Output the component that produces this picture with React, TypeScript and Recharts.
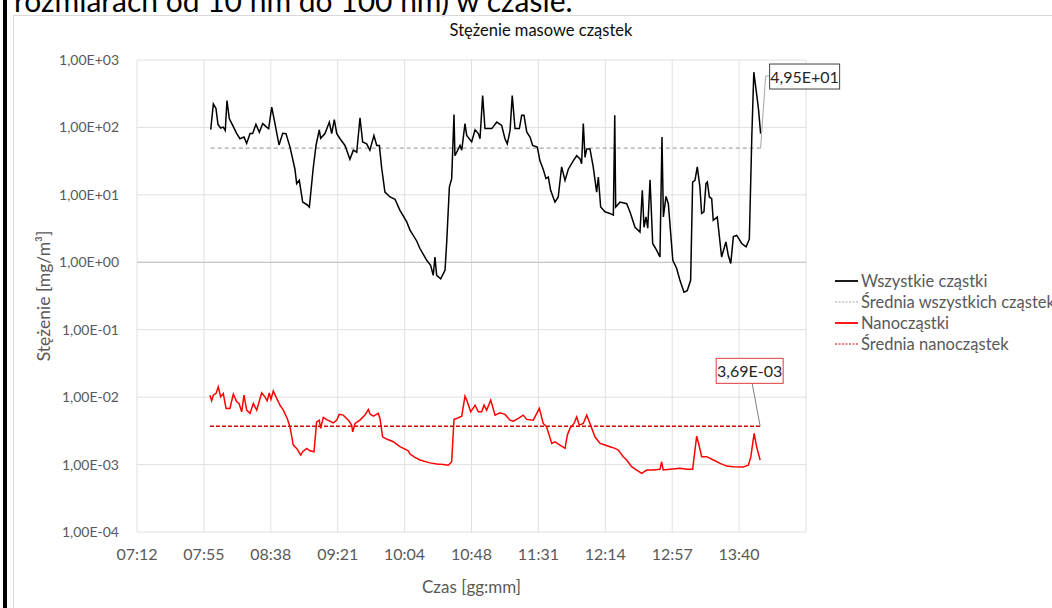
import React from "react";
import { LineChart, Line, XAxis, YAxis, CartesianGrid, ReferenceLine, ReferenceDot } from "recharts";

// czas w minutach od północy
const allTimes = [
  479.6, 481.3, 483.0, 484.3, 486.0, 487.7, 489.0, 490.1, 491.6, 493.8,
  496.4, 498.5, 501.1, 502.8, 505.0, 506.7, 508.8, 511.0, 513.2, 515.7,
  517.0, 519.0, 521.1, 523.7, 526.1, 528.2, 530.8, 534.0, 535.1, 536.8,
  539.0, 541.6, 543.3, 545.8, 547.6, 549.7, 550.6, 553.4, 556.2, 557.7,
  559.4, 561.0, 563.1, 566.3, 569.5, 571.7, 573.9, 576.0, 577.7, 580.3,
  582.4, 585.0, 586.8, 588.5, 590.0, 592.1, 595.4, 598.6, 601.8, 606.1,
  608.3, 612.6, 614.7, 619.1, 621.6, 623.3, 624.4, 625.5, 628.1, 630.9,
  632.0, 633.7, 635.2, 636.7, 637.3, 640.6, 641.7, 643.8, 644.9, 648.1,
  650.3, 652.4, 653.5, 655.2, 656.7, 661.1, 664.3, 667.5, 669.6, 671.1,
  672.9, 674.3, 676.1, 678.9, 680.4, 681.9, 683.7, 685.8, 687.5, 690.5,
  692.2, 694.3, 696.1, 697.6, 699.1, 701.9, 704.0, 706.2, 708.4, 710.5,
  713.7, 715.9, 718.1, 719.1, 720.2, 721.3, 722.4, 724.5, 726.6, 728.8,
  729.9, 731.4, 734.2, 737.4, 739.6, 740.5, 741.1, 743.9, 748.2, 750.3,
  753.6, 756.8, 758.3, 759.4, 760.7, 761.8, 763.3, 765.0, 767.6, 769.7,
  771.0, 771.9, 773.6, 775.1, 778.0, 780.5, 782.6, 785.2, 787.3, 789.5,
  790.8, 792.3, 793.8, 795.5, 796.6, 798.1, 799.4, 800.3, 801.6, 803.1,
  804.1, 806.7, 809.5, 812.3, 813.8, 815.4, 817.1, 819.3, 822.5, 825.3,
  827.4, 829.0, 830.3, 832.5, 833.4, 834.7,
];
const allValues = [
  93, 224, 191, 111, 98, 101, 90, 251, 135, 107,
  81, 68, 72, 58, 81, 81, 111, 85, 114, 101,
  96, 200, 114, 55, 82, 81, 51, 24, 14.7, 16.4,
  7.8, 7.2, 6.6, 25, 54, 92, 69, 81, 120, 81,
  131, 81, 68, 54, 33.6, 46, 43, 139, 61, 57,
  46, 76, 54, 54, 25, 11, 9.3, 8.6, 5.9, 4.0,
  3.0, 2.07, 1.6, 1.07, 0.9, 0.64, 1.2, 0.64, 0.57, 0.76,
  2.0, 13, 17.4, 156, 38, 54, 46, 114, 76, 61,
  92, 81, 68, 298, 96, 96, 120, 107, 68, 57,
  90, 298, 96, 96, 151, 151, 85, 72, 54, 51,
  32, 24, 17.4, 18.4, 11.7, 7.8, 9.3, 26, 16.4, 24,
  32, 38, 34, 29, 114, 36, 48, 48, 26, 11,
  18.4, 6.6, 5.6, 5.3, 5.0, 151, 6.6, 7.8, 7.4, 5.6,
  3.3, 2.8, 11.7, 3.3, 4.7, 3.2, 16.8, 1.9, 1.5, 1.2,
  72, 4.7, 9.5, 7.4, 1.07, 0.81, 0.54, 0.36, 0.38, 0.54,
  15.5, 16.4, 26, 13, 5.3, 5.6, 14.7, 15.5, 9.3, 8.8,
  4.2, 4.7, 1.2, 2.0, 1.27, 0.96, 2.4, 2.5, 1.9, 1.7,
  2.2, 72, 660, 266, 179, 81,
];

const nanoTimes = [
  479.1, 480.2, 481.3, 483.0, 484.5, 486.0, 487.7, 489.5, 492.0, 494.2,
  496.4, 497.9, 499.6, 501.1, 502.8, 505.0, 507.1, 509.3, 512.5, 514.6,
  516.1, 517.4, 518.5, 520.0, 522.2, 524.3, 526.5, 529.0, 530.8, 532.9,
  535.1, 537.7, 539.0, 541.6, 543.7, 546.3, 548.0, 549.7, 550.6, 552.3,
  554.5, 558.8, 561.0, 562.6, 565.2, 568.5, 570.6, 571.3, 572.8, 576.0,
  579.2, 581.4, 582.5, 584.6, 587.8, 588.9, 590.6, 593.2, 597.5, 601.8,
  607.2, 608.3, 611.5, 614.7, 621.2, 625.5, 629.8, 633.0, 635.2, 636.7,
  638.4, 641.7, 643.8, 644.9, 647.5, 650.3, 652.4, 654.6, 656.1, 657.8,
  660.4, 663.2, 666.4, 669.6, 672.9, 675.0, 678.2, 681.4, 683.6, 687.9,
  691.8, 694.3, 696.5, 699.8, 701.9, 705.1, 708.4, 709.9, 711.6, 714.2,
  715.9, 717.6, 720.2, 722.4, 724.5, 727.7, 731.0, 734.2, 737.4, 740.6,
  742.8, 746.0, 748.2, 751.4, 754.7, 757.9, 761.1, 765.4, 769.7, 770.8,
  771.8, 776.2, 782.6, 786.9, 790.8, 793.4, 794.9, 796.6, 799.9, 804.2,
  808.5, 812.8, 817.0, 823.5, 826.8, 828.4, 830.5, 832.2, 834.4,
];
const nanoValues = [
  0.0107, 0.00883, 0.0107, 0.01135, 0.01422, 0.0101, 0.01135, 0.00681, 0.00681, 0.01107,
  0.00851, 0.00807, 0.00605, 0.0107, 0.00641, 0.00574, 0.00807, 0.00641, 0.01159, 0.0101,
  0.00883, 0.01159, 0.00925, 0.01239, 0.00957, 0.0076, 0.00641, 0.00483, 0.00363, 0.00195,
  0.00174, 0.00138, 0.00155, 0.00174, 0.0016, 0.00155, 0.0043, 0.00456, 0.00344, 0.005,
  0.00465, 0.00416, 0.00456, 0.00555, 0.00541, 0.00456, 0.00385, 0.00306, 0.00407, 0.00456,
  0.00541, 0.00658, 0.0056, 0.00523, 0.00574, 0.00483, 0.00258, 0.00239, 0.00218, 0.00184,
  0.0016, 0.00143, 0.00128, 0.00117, 0.00106, 0.00102, 0.001, 0.00098, 0.0011, 0.00468,
  0.00483, 0.00523, 0.01035, 0.00903, 0.00605, 0.0076, 0.00605, 0.00605, 0.0076, 0.00641,
  0.00903, 0.00541, 0.00585, 0.00555, 0.00456, 0.0044, 0.00483, 0.00541, 0.00468, 0.00456,
  0.00681, 0.00407, 0.00363, 0.00206, 0.00218, 0.00195, 0.00174, 0.00274, 0.00344, 0.00407,
  0.0051, 0.00385, 0.00407, 0.00541, 0.00407, 0.00258, 0.00206, 0.00195, 0.00184, 0.00174,
  0.00164, 0.00131, 0.00117, 0.00093, 0.00083, 0.00074, 0.00083, 0.00083, 0.00085, 0.0011,
  0.00083, 0.00085, 0.00088, 0.00085, 0.00085, 0.00264, 0.00195, 0.00131, 0.00131, 0.00117,
  0.00104, 0.00095, 0.00093, 0.00092, 0.00098, 0.00131, 0.0029, 0.0018, 0.00117,
];

const allMean = 49.5;
const nanoMean = 0.00369;

const xTicks = [432, 475.2, 518.4, 561.6, 604.8, 648, 691.2, 734.4, 777.6, 820.8];
const xDomain = [432, 864];
const yTicks = [1e-4, 1e-3, 1e-2, 1e-1, 1, 10, 100, 1000];

const seriesNames = ["Wszystkie cząstki", "Średnia wszystkich cząstek", "Nanocząstki", "Średnia nanocząstek"];
const seriesColors = ["#000000", "#a6a6a6", "#ff0000", "#d00000"];
const seriesDash = ["", "4 3", "", "4 2"];

const FONT = "Lato, 'Open Sans', sans-serif";
const GREY = "#595959";

const fmtSci = (v: number) => {
  const [m, e] = v.toExponential(2).split("e");
  const ex = parseInt(e, 10);
  return m.replace(".", ",") + "E" + (ex < 0 ? "-" : "+") + String(Math.abs(ex)).padStart(2, "0");
};

const fmtTime = (v: number) => {
  const total = Math.floor(v + 1e-6);
  const h = Math.floor(total / 60);
  const m = total % 60;
  return String(h).padStart(2, "0") + ":" + String(m).padStart(2, "0");
};

const allData = allTimes.map((t, i) => ({ t, v: allValues[i] }));
const nanoData = nanoTimes.map((t, i) => ({ t, v: nanoValues[i] }));
const allMeanData = [
  { t: allTimes[0], v: allMean },
  { t: allTimes[allTimes.length - 1], v: allMean },
];
const nanoMeanData = [
  { t: nanoTimes[0], v: nanoMean },
  { t: nanoTimes[nanoTimes.length - 1], v: nanoMean },
];

function AllMeanTag(p: any) {
  const { cx, cy } = p;
  if (cx == null || cy == null) return null;
  return (
    <g>
      <polyline points={`${cx},${cy} ${cx + 5},${cy - 72} ${cx + 9},${cy - 72}`} fill="none" stroke="#a6a6a6" strokeWidth={1} />
      <rect x={cx + 9} y={cy - 84} width={70} height={25} fill="#fff" stroke="#404040" strokeWidth={1} />
      <text x={cx + 44} y={cy - 71.5} textAnchor="middle" dominantBaseline="central" fontSize={16} fontFamily={FONT} fill="#262626">
        {fmtSci(allMean)}
      </text>
    </g>
  );
}

function NanoMeanTag(p: any) {
  const { cx, cy } = p;
  if (cx == null || cy == null) return null;
  return (
    <g>
      <line x1={cx} y1={cy} x2={cx - 8} y2={cy - 43} stroke="#7f7f7f" strokeWidth={1} />
      <rect x={cx - 44} y={cy - 68} width={67} height={25} fill="#fff" stroke="#e03c3c" strokeWidth={1} />
      <text x={cx - 10.5} y={cy - 55.5} textAnchor="middle" dominantBaseline="central" fontSize={16} fontFamily={FONT} fill="#262626">
        {fmtSci(nanoMean)}
      </text>
    </g>
  );
}

export default function App() {
  return (
    <div style={{ position: "absolute", left: 0, top: 0, width: 1052, height: 608, overflow: "hidden", background: "#fff", fontFamily: FONT }}>
      <div style={{ position: "absolute", left: 3, top: 0, width: 4, height: 608, background: "#000" }} />
      <svg style={{ position: "absolute", left: 0, top: 0 }} width={1052} height={20}>
        <text x={14} y={12} fontSize={30} fontFamily={FONT} fill="#000">rozmiarach od 10 nm do 100 nm) w czasie.</text>
      </svg>
      <div style={{ position: "absolute", left: 13, top: 15, width: 1100, height: 700, border: "1px solid #d9d9d9" }} />
      <div style={{ position: "absolute", left: 13, top: 20, width: 1056, textAlign: "center", fontSize: 16.5, color: "#0d0d0d", lineHeight: "20px" }}>
        Stężenie masowe cząstek
      </div>
      <div style={{ position: "absolute", left: 0, top: 0 }}>
        <LineChart width={1052} height={608} margin={{ top: 60, right: 246, bottom: 46, left: 0 }}>
          <CartesianGrid stroke="#e0e0e0" strokeWidth={1} />
          <XAxis
            dataKey="t"
            type="number"
            domain={xDomain}
            ticks={xTicks}
            interval={0}
            allowDataOverflow
            tickFormatter={fmtTime}
            axisLine={false}
            tickLine={false}
            tickSize={0}
            tickMargin={17}
            height={30}
            tick={{ fill: GREY, fontSize: 16, fontFamily: FONT }}
            label={(p: any) => {
              const vb = p.viewBox || {};
              return (
                <text x={vb.x + vb.width / 2} y={vb.y + 54} textAnchor="middle" dominantBaseline="central" fontSize={17} fontFamily={FONT} fill={GREY}>
                  Czas [gg:mm]
                </text>
              );
            }}
          />
          <YAxis
            type="number"
            scale="log"
            domain={[1e-4, 1e3]}
            ticks={yTicks}
            interval={0}
            allowDataOverflow
            tickFormatter={fmtSci}
            axisLine={false}
            tickLine={false}
            tickSize={0}
            tickMargin={18}
            width={137}
            tick={{ fill: GREY, fontSize: 14, fontFamily: FONT }}
            label={(p: any) => {
              const vb = p.viewBox || {};
              const cx = vb.x + 43;
              const cy = vb.y + vb.height / 2;
              return (
                <text x={cx} y={cy} transform={`rotate(-90, ${cx}, ${cy})`} textAnchor="middle" dominantBaseline="central" fontSize={17.5} fontFamily={FONT} fill={GREY}>
                  Stężenie [mg/m³]
                </text>
              );
            }}
          />
          <ReferenceLine y={1} stroke="#bfbfbf" strokeWidth={1} />
          <Line data={allMeanData} dataKey="v" stroke={seriesColors[1]} strokeDasharray={seriesDash[1]} strokeWidth={1.25} dot={false} activeDot={false} isAnimationActive={false} />
          <Line data={nanoMeanData} dataKey="v" stroke={seriesColors[3]} strokeDasharray={seriesDash[3]} strokeWidth={1.5} dot={false} activeDot={false} isAnimationActive={false} />
          <Line data={allData} dataKey="v" stroke={seriesColors[0]} strokeWidth={1.5} dot={false} activeDot={false} isAnimationActive={false} />
          <Line data={nanoData} dataKey="v" stroke={seriesColors[2]} strokeWidth={1.5} dot={false} activeDot={false} isAnimationActive={false} />
          <ReferenceDot x={allTimes[allTimes.length - 1]} y={allMean} r={0} shape={AllMeanTag} />
          <ReferenceDot x={nanoTimes[nanoTimes.length - 1]} y={nanoMean} r={0} shape={NanoMeanTag} />
        </LineChart>
      </div>
      <div style={{ position: "absolute", left: 835, top: 271 }}>
        {seriesNames.map((name, i) => (
          <div key={name} style={{ display: "flex", alignItems: "center", height: 20.8, whiteSpace: "nowrap" }}>
            <svg width={26} height={4} style={{ flex: "none" }}>
              <line x1={0} y1={2} x2={23} y2={2} stroke={seriesColors[i]} strokeWidth={i % 2 ? 1 : 1.8} strokeDasharray={seriesDash[i] ? "2 1.5" : undefined} />
            </svg>
            <span style={{ fontSize: 16.5, color: GREY }}>{name}</span>
          </div>
        ))}
      </div>
    </div>
  );
}
